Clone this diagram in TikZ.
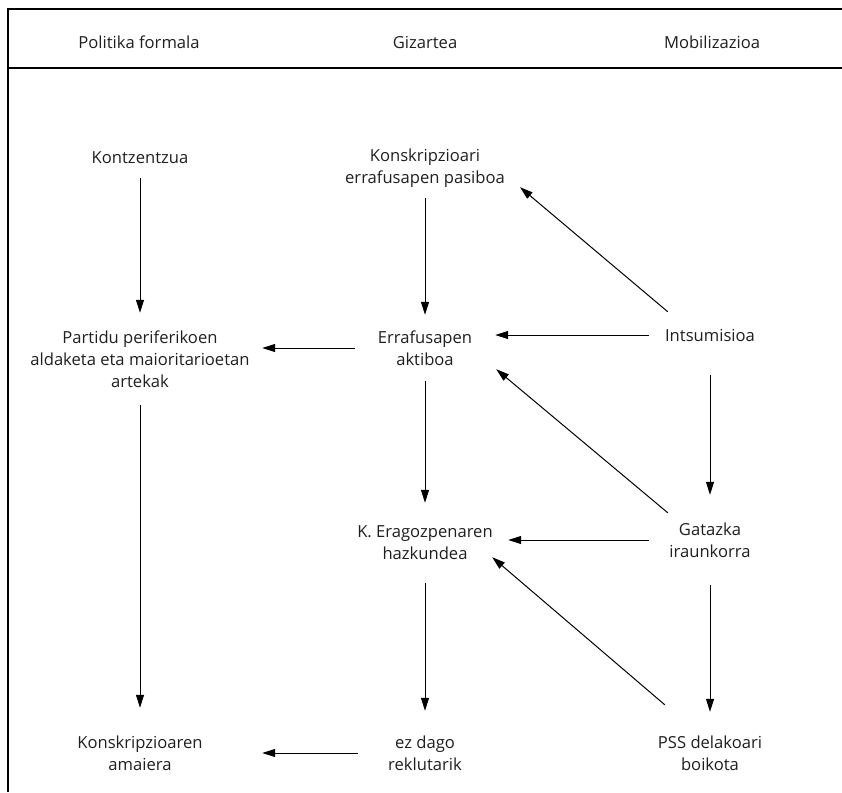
\documentclass[tikz,border=0pt]{standalone}
\usepackage{fontspec}
\setmainfont{Open Sans}
\usetikzlibrary{arrows.meta}

\begin{document}
\begin{tikzpicture}[x=1pt, y=-1pt,
    txt/.style={align=center, inner sep=0pt, text=black!88,
        font=\fontsize{16.6}{22}\selectfont},
    conn/.style={-{Triangle[length=13pt, width=8pt]}, line width=1pt}]
    \useasboundingbox (0, 0) rectangle (842, 792);
    % frame and column heads
    \draw[line width=1.4pt] (842, 9) -- (8, 9) -- (8, 792);
    \draw[line width=1.4pt] (8, 68) -- (842, 68);
    \node[txt] (hpol) at (139, 42) {Politika formala};
    \node[txt] (hgiz) at (425, 42) {Gizartea};
    \node[txt] (hmob) at (712, 42) {Mobilizazioa};
    % first row
    \node[txt, minimum width=244pt, minimum height=40pt] (kontz)
        at (140, 158) {Kontzentzua};
    \node[txt, minimum width=140pt, minimum height=60pt] (konsk)
        at (425, 168) {Konskripzioari\\errafusapen pasiboa};
    % second row
    \node[txt, minimum width=244pt, minimum height=92pt] (partidu)
        at (140, 359) {Partidu periferikoen\\aldaketa eta maioritarioetan\\artekak};
    \node[txt, minimum width=140pt, minimum height=66pt] (erraf)
        at (425, 348) {Errafusapen\\aktiboa};
    \node[txt, minimum width=122pt, minimum height=80pt] (intsu)
        at (710, 335) {Intsumisioa};
    % third row
    \node[txt, minimum width=166pt, minimum height=80pt] (keraz)
        at (425, 543) {K. Eragozpenaren\\hazkundea};
    \node[txt, minimum width=122pt, minimum height=90pt] (gatazka)
        at (710, 540) {Gatazka\\iraunkorra};
    % last row
    \node[txt, minimum width=244pt, minimum height=90pt] (amaiera)
        at (140, 753) {Konskripzioaren\\amaiera};
    \node[txt, minimum width=134pt, minimum height=84pt] (ezdago)
        at (425, 753) {ez dago\\reklutarik};
    \node[txt, minimum width=122pt, minimum height=82pt] (pss)
        at (710, 753) {PSS delakoari\\boikota};
    % vertical arrows
    \draw[conn] (kontz.south) -- (partidu.north);
    \draw[conn] (partidu.south) -- (amaiera.north);
    \draw[conn] (konsk.south) -- (erraf.north);
    \draw[conn] (erraf.south) -- (keraz.north);
    \draw[conn] (keraz.south) -- (ezdago.north);
    \draw[conn] (intsu.south) -- (gatazka.north);
    \draw[conn] (gatazka.south) -- (pss.north);
    % horizontal arrows
    \draw[conn] (erraf.west) -- (erraf.west -| partidu.east);
    \draw[conn] (intsu.west) -- (intsu.west -| erraf.east);
    \draw[conn] (gatazka.west) -- (gatazka.west -| keraz.east);
    \draw[conn] (ezdago.west) -- (ezdago.west -| amaiera.east);
    % diagonal arrows
    \draw[conn] ([shift={(19, 17)}]intsu.north west)
        -- ([shift={(95, -11)}]konsk.south);
    \draw[conn] ([shift={(19, 18)}]gatazka.north west)
        -- ([shift={(1, -12)}]erraf.south east);
    \draw[conn] ([shift={(16, -7)}]pss.north west)
        -- ([shift={(-16, -26)}]keraz.south east);
\end{tikzpicture}
\end{document}
